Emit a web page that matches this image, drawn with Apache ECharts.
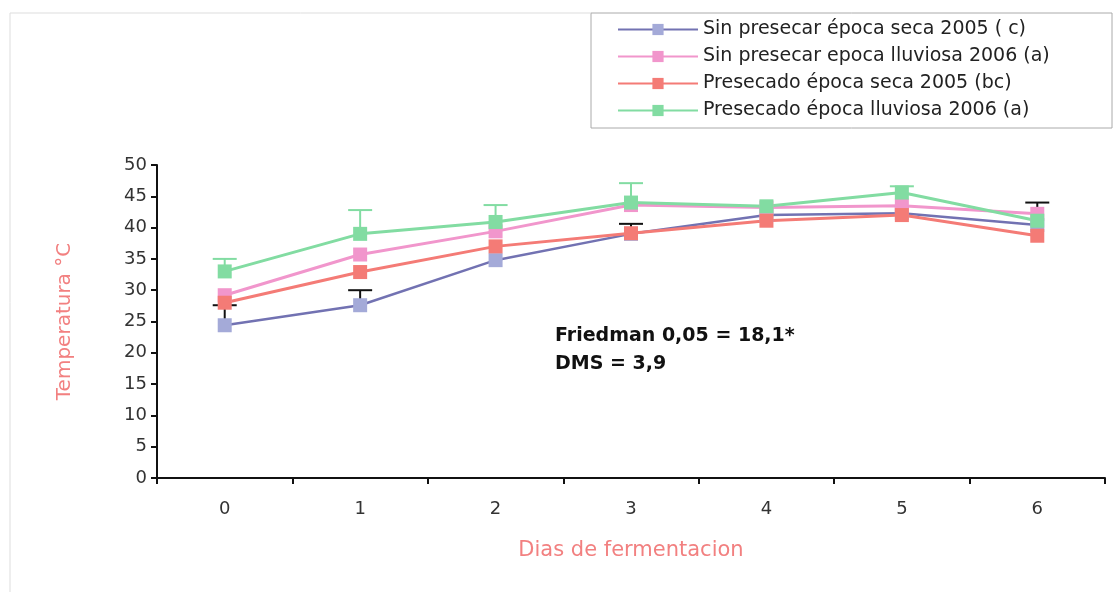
<!DOCTYPE html>
<html><head><meta charset="utf-8">
<script src="https://cdn.jsdelivr.net/npm/echarts@6/dist/echarts.min.js"></script>
<style>html,body{margin:0;padding:0;background:#fff}#c{width:1117px;height:592px}</style>
</head><body><div id="c"></div>
<script>
const categories = ['0', '1', '2', '3', '4', '5', '6'];
const seriesNames = [
  'Sin presecar época seca 2005 ( c)',
  'Sin presecar epoca lluviosa 2006 (a)',
  'Presecado época seca 2005 (bc)',
  'Presecado época lluviosa 2006 (a)'
];
const sinSeca2005 = [24.4, 27.6, 34.8, 39.0, 42.0, 42.3, 40.4];
const sinLluviosa2006 = [29.2, 35.7, 39.4, 43.6, 43.2, 43.5, 42.2];
const preSeca2005 = [28.0, 32.9, 37.0, 39.1, 41.1, 42.0, 38.7];
const preLluviosa2006 = [33.0, 39.0, 40.9, 44.0, 43.4, 45.6, 41.1];
// upper error bar lengths
const errSinSeca2005 = [3.2, 2.4, 0, 0, 0, 0, 0];
const errSinLluviosa2006 = [0, 0, 0, 0, 0, 0, 1.8];
const errPreSeca2005 = [0, 0, 0, 1.5, 0, 0, 0];
const errPreLluviosa2006 = [2.0, 3.8, 2.7, 3.1, 0, 1.0, 0];
const yTicks = [0, 5, 10, 15, 20, 25, 30, 35, 40, 45, 50];

const colors = ['#7272b2', '#f196cc', '#f47b76', '#82dca2'];
const markerColors = ['#a4aad8', '#f196cc', '#f47b76', '#82dca2'];
const barColors = ['#111', '#111', '#111', '#82dca2'];
const values = [sinSeca2005, sinLluviosa2006, preSeca2005, preLluviosa2006];
const errs = [errSinSeca2005, errSinLluviosa2006, errPreSeca2005, errPreLluviosa2006];

function errRender(color) {
  return function (params, api) {
    const x = api.value(0), y = api.value(1), e = api.value(2);
    if (!e) return null;
    const p0 = api.coord([x, y]), p1 = api.coord([x, y + e]);
    return {
      type: 'group', children: [
        { type: 'line', shape: { x1: p0[0], y1: p0[1], x2: p1[0], y2: p1[1] }, style: { stroke: color, lineWidth: 2 } },
        { type: 'line', shape: { x1: p1[0] - 12, y1: p1[1], x2: p1[0] + 12, y2: p1[1] }, style: { stroke: color, lineWidth: 2 } }
      ]
    };
  };
}

const series = [];
values.forEach((v, k) => {
  series.push({
    type: 'custom', z: 1, silent: true,
    renderItem: errRender(barColors[k]),
    data: categories.map((c, i) => [i, v[i], errs[k][i]])
  });
});
values.forEach((v, k) => {
  series.push({
    name: seriesNames[k], type: 'line', z: 3, data: v,
    symbol: 'rect', symbolSize: 14,
    itemStyle: { color: markerColors[k] },
    lineStyle: { color: colors[k], width: k === 0 ? 2.5 : 3 }
  });
});

const chart = echarts.init(document.getElementById('c'));
chart.setOption({
  animation: false,
  backgroundColor: '#fff',
  grid: { left: 157, right: 12, top: 165, bottom: 114 },
  legend: {
    orient: 'vertical', left: 612, top: 15,
    data: seriesNames,
    itemWidth: 80, itemHeight: 14, itemGap: 8,
    textStyle: { fontFamily: 'DejaVu Sans', fontSize: 19, color: '#222' }
  },
  graphic: [
    { type: 'rect', shape: { x: 591, y: 13, width: 521, height: 115 }, style: { fill: 'none', stroke: '#aaa', lineWidth: 1 }, z: -1 },
    { type: 'line', shape: { x1: 10, y1: 13, x2: 591, y2: 13 }, style: { stroke: '#ddd', lineWidth: 1 } },
    { type: 'line', shape: { x1: 10, y1: 13, x2: 10, y2: 592 }, style: { stroke: '#ddd', lineWidth: 1 } },
    { type: 'text', left: 555, top: 327, style: { text: 'Friedman 0,05 = 18,1*', font: 'bold 19px "DejaVu Sans"', fill: '#111' } },
    { type: 'text', left: 555, top: 355, style: { text: 'DMS = 3,9', font: 'bold 19px "DejaVu Sans"', fill: '#111' } }
  ],
  xAxis: {
    type: 'category', data: categories, boundaryGap: true,
    name: 'Dias de fermentacion', nameLocation: 'middle', nameGap: 62,
    nameTextStyle: { color: '#f28080', fontSize: 21, fontFamily: 'DejaVu Sans' },
    axisLine: { lineStyle: { color: '#111', width: 2 } },
    axisTick: { show: true, length: 6, lineStyle: { color: '#111', width: 2 } },
    axisLabel: { color: '#333', fontSize: 18, fontFamily: 'DejaVu Sans', margin: 22 },
    splitLine: { show: false }
  },
  yAxis: {
    type: 'value', min: 0, max: 50, interval: 5,
    name: 'Temperatura °C', nameLocation: 'middle', nameGap: 82,
    nameTextStyle: { color: '#f28080', fontSize: 20, fontFamily: 'DejaVu Sans' },
    axisLine: { show: true, lineStyle: { color: '#111', width: 2 } },
    axisTick: { show: true, length: 6, lineStyle: { color: '#111', width: 2 } },
    axisLabel: { color: '#333', fontSize: 18, fontFamily: 'DejaVu Sans', margin: 10,
      formatter: v => yTicks.includes(v) ? String(v) : '' },
    splitLine: { show: false }
  },
  series: series
});
</script></body></html>
